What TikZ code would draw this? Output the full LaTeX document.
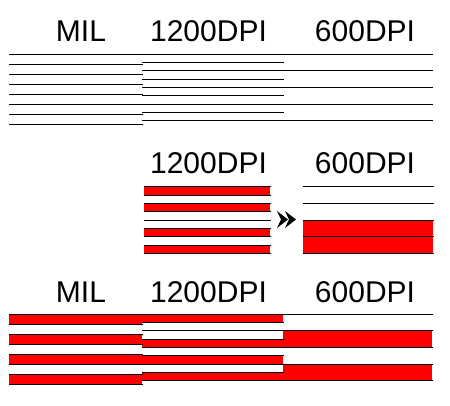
\documentclass[tikz,border=0pt]{standalone}
\usepackage{fontspec}
\setmainfont{Liberation Sans}
\tikzset{
  ln/.style={line width=1pt, line cap=rect},
  redband/.style={fill=red},
  lbl/.style={font=\fontsize{30}{36}\selectfont, anchor=base, inner sep=0pt},
  chev/.style={fill=black}
}
\newcommand\mylines[5]{% x0 x1 y0 step n
  \foreach \k in {0,...,#5} {\draw[ln] (#1,{#3+\k*#4}) -- (#2,{#3+\k*#4});}}
\newcommand\mybands[5]{% x0 x1 y0 step list
  \foreach \k in {#5} {\fill[redband] (#1,{#3+\k*#4}) rectangle (#2,{#3+(\k+1)*#4});}}
\begin{document}
\begin{tikzpicture}[x=1pt,y=-1pt]
\useasboundingbox (0,0) rectangle (450,405);
% ---------- top section ----------
\node[lbl] (t1) at (81,41) {MIL};
\node[lbl] (t2) at (208.5,41) {1200DPI};
\node[lbl] (t3) at (365,41) {600DPI};
\mylines{9}{142}{54.3}{10}{7}
\mylines{142}{283}{54.3}{8.333}{8}
\mylines{283}{432}{54.3}{16.667}{4}
% ---------- middle section ----------
\node[lbl] (m2) at (208.5,173) {1200DPI};
\node[lbl] (m3) at (365,173) {600DPI};
\mybands{144}{270}{186.7}{8.333}{0,2,5,7}
\mylines{144}{270}{186.7}{8.333}{8}
\mybands{303}{433}{186.7}{16.667}{2,3}
\mylines{303}{433}{186.7}{16.667}{4}
\fill[chev] (277,211) -- (288,219.5) -- (277,228) -- (281,219.5) -- cycle;
\fill[chev] (285,211) -- (296,219.5) -- (285,228) -- (289,219.5) -- cycle;
% ---------- bottom section ----------
\node[lbl] (b1) at (81,302) {MIL};
\node[lbl] (b2) at (208.5,302) {1200DPI};
\node[lbl] (b3) at (365,302) {600DPI};
\mybands{9}{142}{314.3}{10}{0,2,4,6}
\mybands{142}{283}{314.3}{8.333}{0,3,5,7}
\mybands{283}{432}{314.3}{16.667}{1,3}
\mylines{9}{142}{314.3}{10}{7}
\mylines{142}{283}{314.3}{8.333}{8}
\mylines{283}{432}{314.3}{16.667}{4}
\end{tikzpicture}
\end{document}
